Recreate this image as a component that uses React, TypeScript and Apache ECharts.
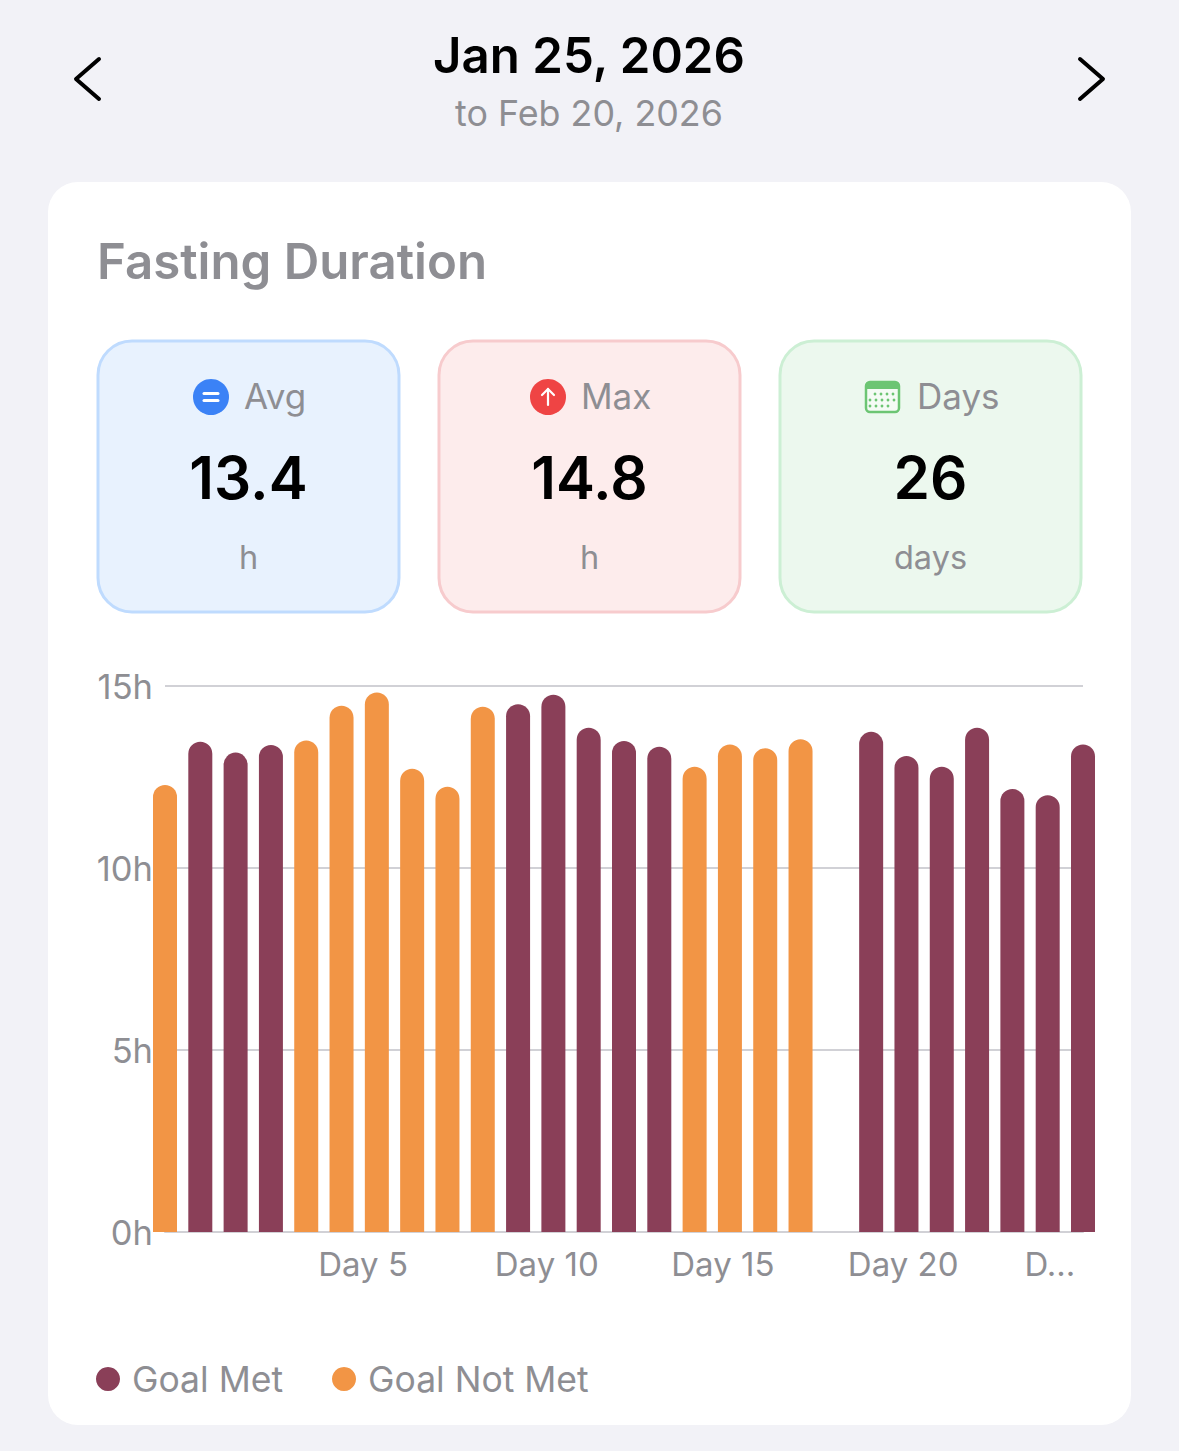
import React, { useEffect, useRef } from "react";
import * as echarts from "echarts";

const days = Array.from({ length: 27 }, (_, i) => `Day ${i + 1}`);
const goalMet = [null, 13.47, 13.17, 13.38, null, null, null, null, null, null, 14.5, 14.76, 13.85, 13.49, 13.33, null, null, null, null, null, 13.74, 13.08, 12.78, 13.85, 12.17, 12.0, 13.39];
const goalNotMet = [12.28, null, null, null, 13.5, 14.46, 14.82, 12.73, 12.23, 14.43, null, null, null, null, null, 12.78, 13.39, 13.29, 13.54, null, null, null, null, null, null, null, null];
const yTicks = [0, 5, 10, 15];
const statLabels = ["Avg", "Max", "Days"];
const statValues = ["13.4", "14.8", "26"];
const statUnits = ["h", "h", "days"];
const statFills = ["#e8f2fe", "#fdecec", "#ecf8ee"];
const statStrokes = ["#bfdbfe", "#f7cbcd", "#ccefd4"];
const titleText = "Jan 25, 2026";
const subtitleText = "to Feb 20, 2026";
const cardTitle = "Fasting Duration";

const FONT = "Inter";
const GRAY = "#8e8e93";
const MET = "#8a3f58";
const NOT_MET = "#f29545";

function text(t: string, x: number, y: number, size: number, fill: string, weight = 400, align = "center") {
  return {
    type: "text",
    z: 1,
    x,
    y,
    style: { text: t, fill, fontFamily: FONT, fontSize: size, fontWeight: weight, textAlign: align, textVerticalAlign: "middle" },
  };
}

function chevron(points: number[][]) {
  return {
    type: "polyline",
    z: 1,
    shape: { points },
    style: { stroke: "#000", lineWidth: 4, fill: "none", lineCap: "round", lineJoin: "round" },
  };
}

function statCard(i: number) {
  const left = [97, 438, 779][i];
  const cx = left + 151.5;
  const labelX = [244, 581, 917][i];
  const els: any[] = [
    {
      type: "rect",
      z: -5,
      shape: { x: left + 1, y: 341, width: 301, height: 271, r: 34 },
      style: { fill: statFills[i], stroke: statStrokes[i], lineWidth: 3 },
    },
    text(statLabels[i], labelX, 396, 35, GRAY, 400, "left"),
    text(statValues[i], cx, 477, 58.5, "#000", 600),
    text(statUnits[i], cx, 557, 32.5, GRAY),
  ];
  return els;
}

function icons() {
  const white = { stroke: "#fff", lineWidth: 3, lineCap: "round" };
  const dots: any[] = [];
  const rows = [[875, 881, 887, 893], [870, 876, 882, 888, 894], [870, 876, 882, 888]];
  rows.forEach((r, j) =>
    r.forEach((x) =>
      dots.push({ type: "circle", z: 1, shape: { cx: x, cy: 394 + j * 6, r: 1.4 }, style: { fill: "#6cc573" } })
    )
  );
  return [
    { type: "circle", z: 1, shape: { cx: 211, cy: 397, r: 18 }, style: { fill: "#3b82f6" } },
    { type: "line", z: 1, shape: { x1: 204, y1: 393.5, x2: 218, y2: 393.5 }, style: white },
    { type: "line", z: 1, shape: { x1: 204, y1: 400.5, x2: 218, y2: 400.5 }, style: white },
    { type: "circle", z: 1, shape: { cx: 548, cy: 397, r: 18 }, style: { fill: "#ef4444" } },
    { type: "line", z: 1, shape: { x1: 548, y1: 405, x2: 548, y2: 389 }, style: { ...white, lineWidth: 2.2 } },
    { type: "polyline", z: 1, shape: { points: [[542, 395], [548, 389], [554, 395]] }, style: { ...white, lineWidth: 2.2, fill: "none" } },
    { type: "rect", z: 1, shape: { x: 866, y: 382, width: 33, height: 30, r: 4 }, style: { fill: "#f4fbf5", stroke: "#6cc573", lineWidth: 2.5 } },
    { type: "rect", z: 1, shape: { x: 866, y: 382, width: 33, height: 7, r: [4, 4, 0, 0] }, style: { fill: "#6cc573" } },
    ...dots,
  ];
}

export default function App() {
  const ref = useRef<HTMLDivElement>(null);
  useEffect(() => {
    const chart = echarts.init(ref.current!, undefined, { renderer: "svg" });
    chart.setOption({
      animation: false,
      backgroundColor: "#f2f2f7",
      textStyle: { fontFamily: FONT },
      grid: { left: 165, right: 96, top: 686, bottom: 219, containLabel: false },
      legend: {
        left: 96,
        top: 1361,
        padding: 0,
        icon: "circle",
        itemWidth: 24,
        itemHeight: 24,
        itemGap: 49,
        selectedMode: false,
        textStyle: { color: GRAY, fontFamily: FONT, fontSize: 35.5, padding: [0, 0, 0, 7] },
        data: ["Goal Met", "Goal Not Met"],
      },
      xAxis: {
        type: "category",
        data: days,
        boundaryGap: false,
        axisLine: { show: true, lineStyle: { color: "#d1d1d6", width: 2 } },
        axisTick: { show: false },
        splitLine: { show: false },
        axisLabel: {
          color: GRAY,
          fontFamily: FONT,
          fontSize: 33,
          margin: 15,
          align: "left",
          padding: [0, 0, 0, 12],
          interval: (i: number) => i % 5 === 4,
          formatter: (v: string) => (v === "Day 25" ? "D..." : v),
        },
      },
      yAxis: {
        type: "value",
        min: yTicks[0],
        max: yTicks[yTicks.length - 1],
        interval: 5,
        axisLine: { show: false },
        axisTick: { show: false },
        splitLine: { show: true, lineStyle: { color: "#d1d1d6", width: 2 } },
        axisLabel: { color: GRAY, fontFamily: FONT, fontSize: 34.5, margin: 12, padding: [0, 0, 4, 0], formatter: (v: number) => `${v}h` },
      },
      series: [
        { name: "Goal Met", type: "bar", stack: "d", clip: false, barWidth: 24, data: goalMet, itemStyle: { color: MET, borderRadius: [12, 12, 0, 0] } },
        { name: "Goal Not Met", type: "bar", stack: "d", clip: false, barWidth: 24, data: goalNotMet, itemStyle: { color: NOT_MET, borderRadius: [12, 12, 0, 0] } },
      ],
      graphic: {
        elements: [
          { type: "rect", z: -10, shape: { x: 48, y: 182, width: 1083, height: 1243, r: 30 }, style: { fill: "#ffffff" } },
          text(titleText, 589, 55, 49.2, "#000", 600),
          text(subtitleText, 589, 112.5, 35.8, GRAY),
          text(cardTitle, 97, 261, 49.2, GRAY, 600, "left"),
          chevron([[99, 59], [76, 79], [99, 99]]),
          chevron([[1080, 59], [1103, 79], [1080, 99]]),
          ...statCard(0),
          ...statCard(1),
          ...statCard(2),
          ...icons(),
        ],
      },
    });
    return () => chart.dispose();
  }, []);
  return <div ref={ref} style={{ position: "absolute", left: 0, top: 0, width: 1179, height: 1451 }} />;
}
